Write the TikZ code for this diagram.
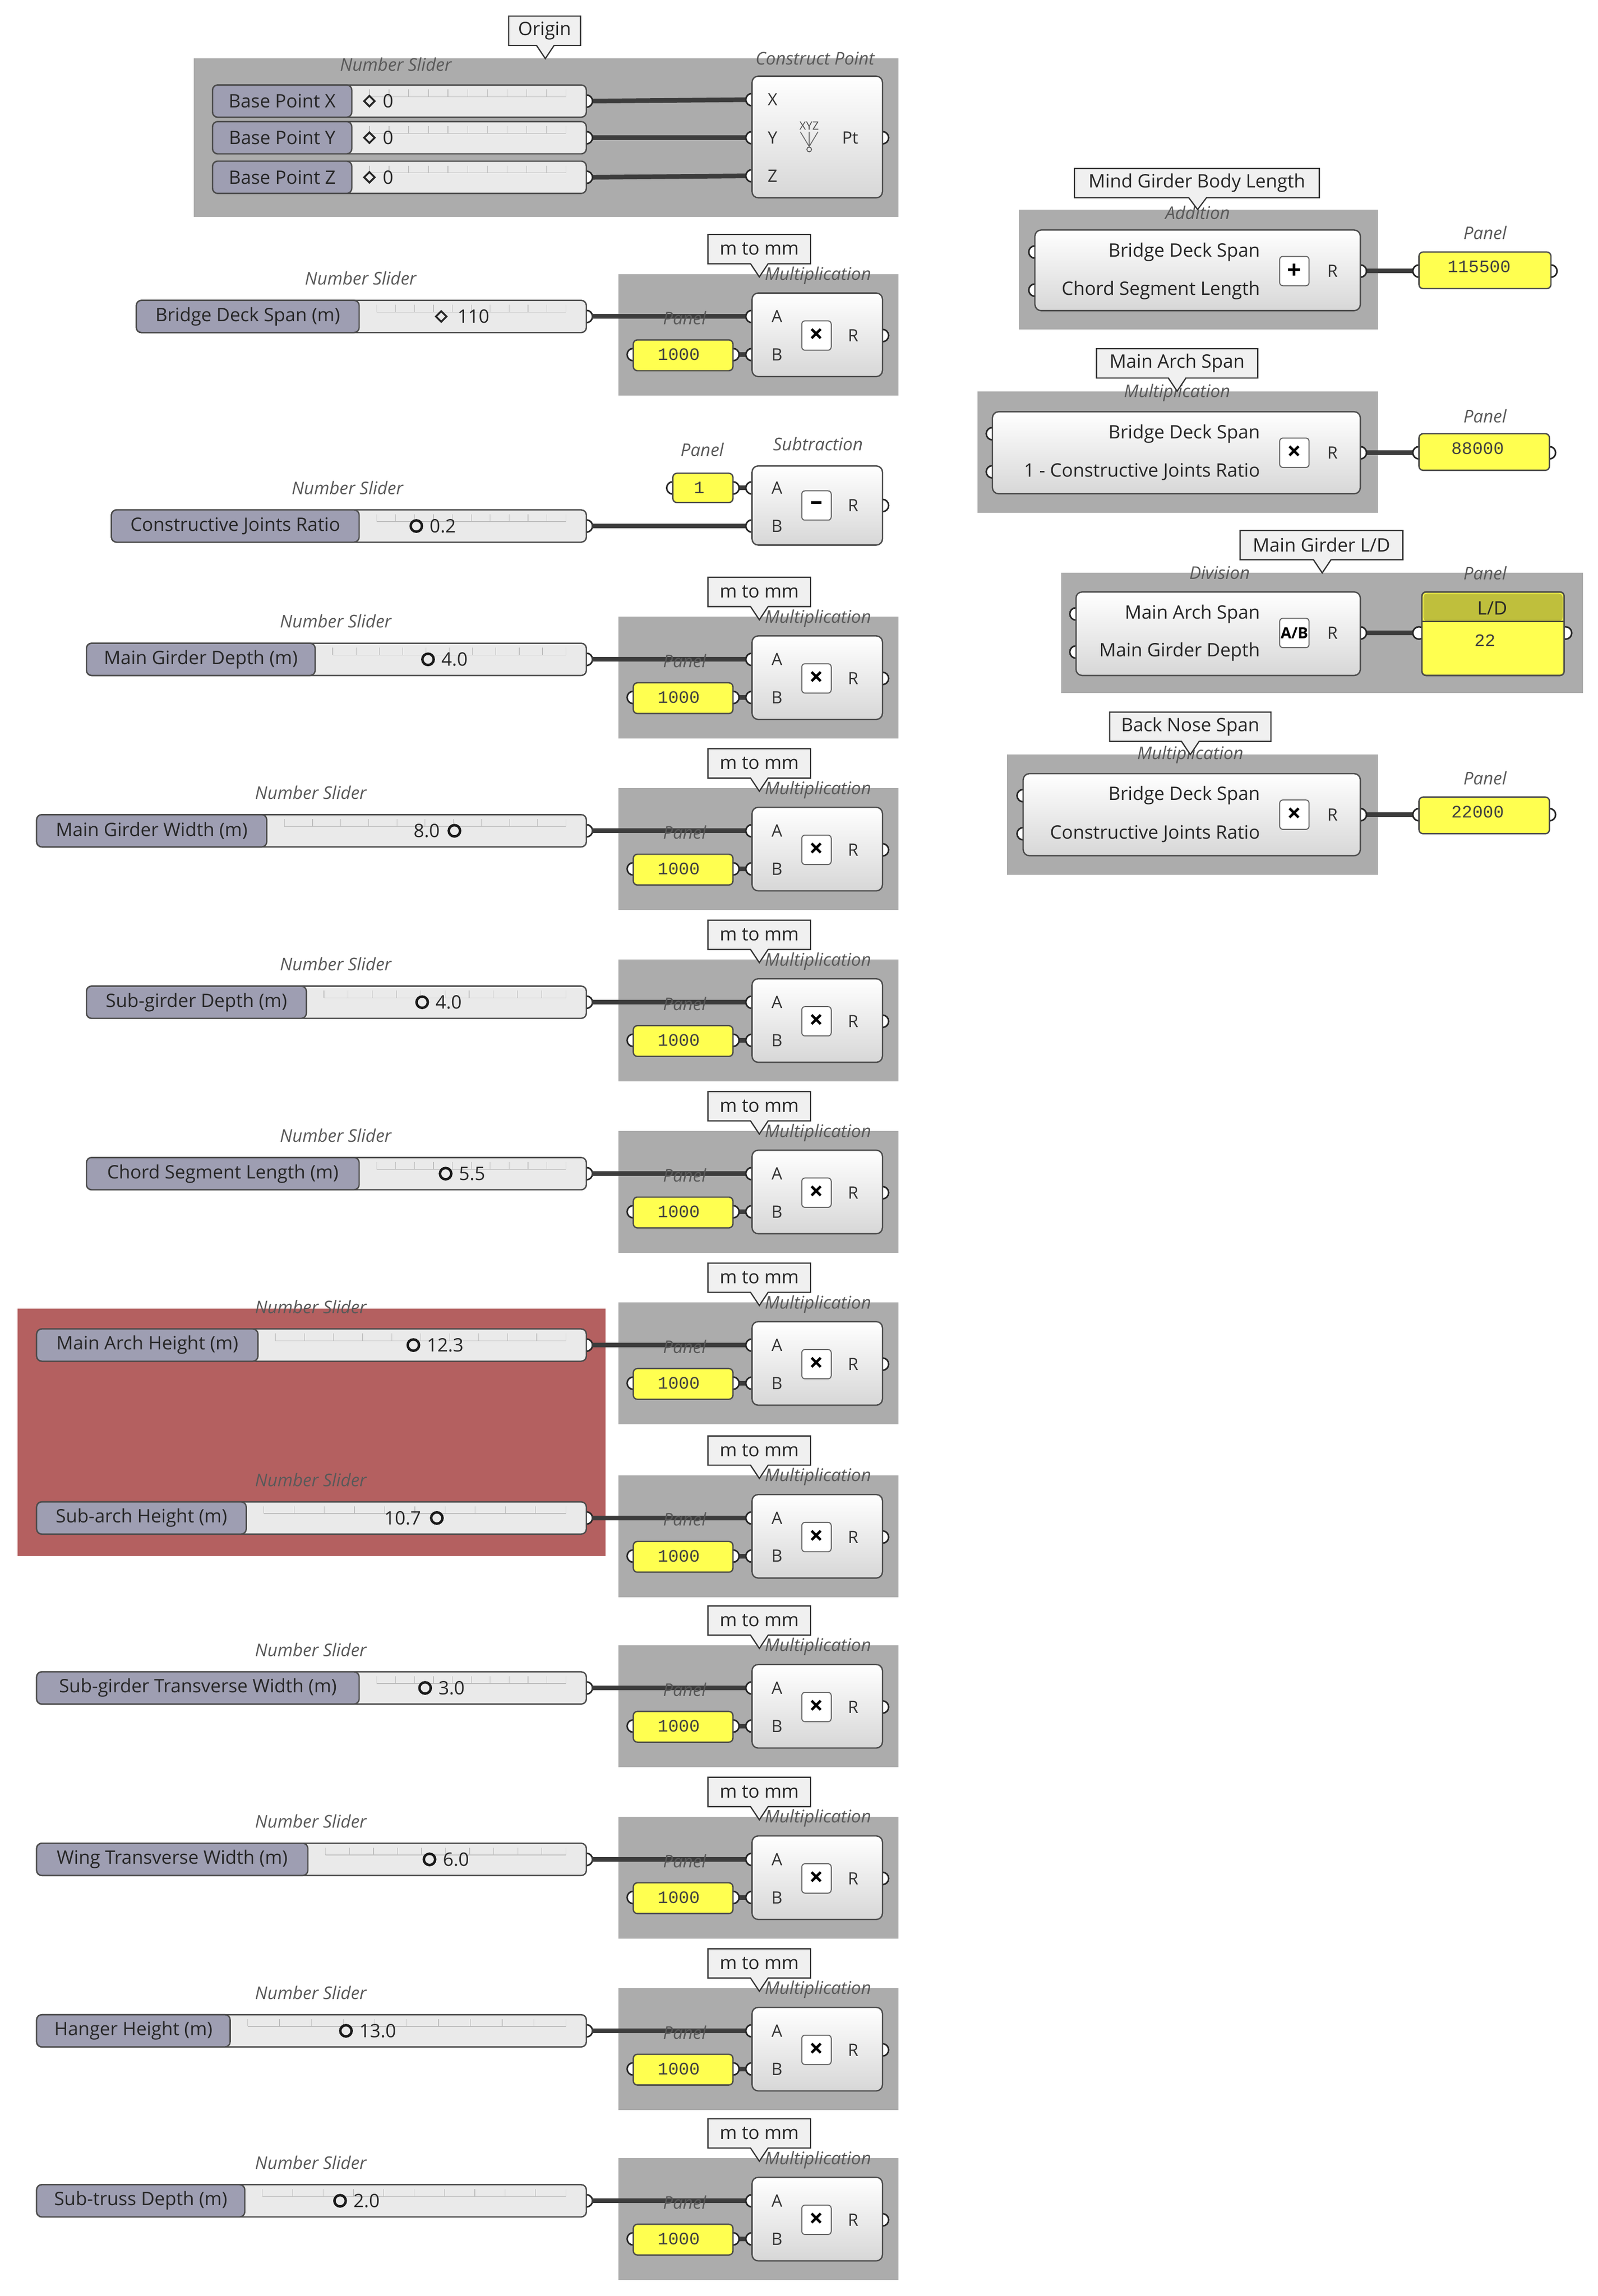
\documentclass[tikz,border=0pt]{standalone}
\usepackage{fontspec}
\setmainfont{Open Sans}
\newfontfamily\monof{Liberation Mono}
\usetikzlibrary{shapes.geometric}
\definecolor{grpc}{RGB}{172,172,172}
\definecolor{lblc}{RGB}{158,158,178}
\definecolor{valc}{RGB}{234,234,234}
\definecolor{yelc}{RGB}{255,255,80}
\definecolor{wirec}{RGB}{60,60,60}
\definecolor{redc}{RGB}{180,96,96}
\definecolor{cmpc}{RGB}{215,215,215}
\definecolor{cwc}{RGB}{240,240,240}
\tikzset{
 grpbox/.style={fill=grpc,draw=none},
 wire/.style={draw=wirec,line width=4.5pt},
 comp/.style={draw=black!70,line width=1.3pt,rounded corners=6pt,top color=white,bottom color=cmpc},
 port/.style={circle,draw=black!85,fill=white,line width=1.5pt,minimum size=12pt,inner sep=0pt},
 panelbox/.style={draw=black!70,line width=1.3pt,rounded corners=4pt,fill=yelc},
 ital/.style={font=\fontsize{17}{19}\selectfont\itshape,text=black!65},
 txt/.style={font=\fontsize{18}{21}\selectfont,text=black!85},
 smt/.style={font=\fontsize{16.5}{18}\selectfont,text=black!80},
 mono/.style={font=\fontsize{17}{19}\selectfont\monof,text=black!75},
 mkd/.style={diamond,draw=black!85,line width=1.8pt,minimum size=11pt,inner sep=0pt},
 mkc/.style={circle,draw=black!90,line width=2.4pt,minimum size=11pt,inner sep=0pt},
 iconb/.style={draw=black!60,line width=1pt,rounded corners=3pt,fill=white,minimum size=1cm,inner sep=0pt,font=\fontsize{24}{24}\selectfont\bfseries},
 callbox/.style={draw=black!80,line width=1.2pt,fill=cwc},
}
% slider: name, x1, xsplit, c, label, valx, value, markx, markstyle
\newcommand\gslider[9]{%
 \node[port] at (400,#4) {};
 \draw[black!70,line width=1.3pt,rounded corners=5pt,fill=valc] (#2,#4-11) rectangle (400,#4+11);
 \draw[black!70,line width=1.3pt,rounded corners=5pt,fill=lblc] (#2,#4-11) rectangle (#3,#4+11);
 \foreach \k in {0,...,10} \draw[black!25,line width=0.6pt] ({#3+12+\k*(386-#3-12)/10},#4-8) -- ++(0,5);
 \draw[black!25,line width=0.6pt] (#3+12,#4-3) -- (386,#4-3);
 \node[txt] at ({(#2+#3)/2},#4) {#5};
 \node[txt,anchor=west,inner sep=0pt] at (#6,#4) {#7};
 \node[#9] at (#8,#4) {};
 \coordinate (#1) at (404,#4);
}
\newcommand\callout[6]{% x1,x2,cy,text,tipx,tipy
 \draw[callbox] (#1,#3-10) -- (#2,#3-10) -- (#2,#3+10) -- (#5+6,#3+10) -- (#5,#6) -- (#5-6,#3+10) -- (#1,#3+10) -- cycle;
 \node[txt] at ({(#1+#2)/2},#3) {#4};
}
% mult block: slidername, c
\newcommand\mult[2]{%
 \fill[grpbox] (422,#2-29) rectangle (613,#2+54);
 \draw[wire] (#1) -- (513,#2);
 \draw[wire] (500,#2+26) -- (513,#2+26);
 \node[port] at (513,#2) {};
 \node[port] at (513,#2+26) {};
 \node[port] at (602,#2+13) {};
 \node[port] at (432,#2+26) {};
 \node[port] at (500,#2+26) {};
 \draw[comp] (513,#2-16) rectangle (602,#2+41);
 \draw[panelbox] (432,#2+16) rectangle (500,#2+37);
 \node[mono] at (463,#2+26) {1000};
 \node[smt] at (530,#2) {A};
 \node[smt] at (530,#2+26) {B};
 \node[smt] at (582,#2+13) {R};
 \node[iconb] at (557,#2+13) {×};
 \node[ital] at (467,#2+1) {Panel};
 \node[ital] at (558,#2-28) {Multiplication};
 \callout{483}{553}{#2-46}{m to mm}{518}{#2-27}
}
\begin{document}
\begin{tikzpicture}[x=0.05cm,y=-0.05cm]
\useasboundingbox[fill=white] (0,0) rectangle (1090,1567);
% red group
\fill[redc] (12,893) rectangle (413,1062);
% ===== Origin group
\fill[grpbox] (132,40) rectangle (613,148);
\node[ital] at (270,44) {Number Slider};
\node[ital] at (556,40) {Construct Point};
\draw[wire] (404,69) -- (513,68);
\draw[wire] (404,94) -- (513,94);
\draw[wire] (404,121) -- (513,120);
\gslider{bx}{145}{240}{69}{Base Point X}{261}{0}{252}{mkd}
\gslider{by}{145}{240}{94}{Base Point Y}{261}{0}{252}{mkd}
\gslider{bz}{145}{240}{121}{Base Point Z}{261}{0}{252}{mkd}
\node[port] at (513,68) {};
\node[port] at (513,94) {};
\node[port] at (513,120) {};
\node[port] at (602,94) {};
\draw[comp] (513,52) rectangle (602,135);
\node[smt] at (527,68) {X};
\node[smt] at (527,94) {Y};
\node[smt] at (527,120) {Z};
\node[smt] at (580,94) {Pt};
\node[font=\fontsize{11}{11}\selectfont,text=black!70] (xyz) at (552,86) {XYZ};
\draw[black!60,line width=0.8pt] (546,90) -- (552,100) (552,90) -- (552,100) (558,90) -- (552,100);
\draw[black!70,line width=0.8pt] (552,102) circle (1.6);
\callout{347}{396}{21}{Origin}{372}{40}
% ===== Bridge deck span
\gslider{s1}{93}{245}{216}{Bridge Deck Span (m)}{312}{110}{301}{mkd}
\node[ital] at (246,190) {Number Slider};
\mult{s1}{216}
% ===== Subtraction
\gslider{s2}{76}{245}{359}{Constructive Joints Ratio}{293}{0.2}{284}{mkc}
\node[ital] at (237,333) {Number Slider};
\draw[wire] (s2) -- (513,359);
\draw[wire] (500,333) -- (513,333);
\node[port] at (459,333) {};
\node[port] at (500,333) {};
\node[port] at (513,333) {};
\node[port] at (513,359) {};
\node[port] at (602,345) {};
\draw[comp] (513,318) rectangle (602,372);
\draw[panelbox] (459,323) rectangle (500,343);
\node[mono] at (477,333) {1};
\node[ital] at (479,307) {Panel};
\node[ital] at (558,303) {Subtraction};
\node[smt] at (530,333) {A};
\node[smt] at (530,359) {B};
\node[smt] at (582,345) {R};
\node[iconb] at (557,345) {–};
% ===== rows
\gslider{s3}{59}{215}{450}{Main Girder Depth (m)}{301}{4.0}{292}{mkc}
\node[ital] at (229,424) {Number Slider}; \mult{s3}{450}
\gslider{s4}{25}{182}{567}{Main Girder Width (m)}{282}{8.0}{310}{mkc}
\node[ital] at (212,541) {Number Slider}; \mult{s4}{567}
\gslider{s5}{59}{209}{684}{Sub-girder Depth (m)}{297}{4.0}{288}{mkc}
\node[ital] at (229,658) {Number Slider}; \mult{s5}{684}
\gslider{s6}{59}{245}{801}{Chord Segment Length (m)}{313}{5.5}{304}{mkc}
\node[ital] at (229,775) {Number Slider}; \mult{s6}{801}
\gslider{s7}{25}{176}{918}{Main Arch Height (m)}{291}{12.3}{282}{mkc}
\node[ital] at (212,892) {Number Slider}; \mult{s7}{918}
\gslider{s8}{25}{168}{1036}{Sub-arch Height (m)}{262}{10.7}{298}{mkc}
\node[ital] at (212,1010) {Number Slider}; \mult{s8}{1036}
\gslider{s9}{25}{245}{1152}{Sub-girder Transverse Width (m)}{299}{3.0}{290}{mkc}
\node[ital] at (212,1126) {Number Slider}; \mult{s9}{1152}
\gslider{s10}{25}{210}{1269}{Wing Transverse Width (m)}{302}{6.0}{293}{mkc}
\node[ital] at (212,1243) {Number Slider}; \mult{s10}{1269}
\gslider{s11}{25}{157}{1386}{Hanger Height (m)}{245}{13.0}{236}{mkc}
\node[ital] at (212,1360) {Number Slider}; \mult{s11}{1386}
\gslider{s12}{25}{167}{1502}{Sub-truss Depth (m)}{241}{2.0}{232}{mkc}
\node[ital] at (212,1476) {Number Slider}; \mult{s12}{1502}
% ===== Right: Addition
\fill[grpbox] (695,143) rectangle (940,225);
\draw[wire] (932,185) -- (968,185);
\node[port] at (706,172) {}; \node[port] at (706,198) {}; \node[port] at (928,185) {};
\node[port] at (968,185) {}; \node[port] at (1058,185) {};
\draw[comp] (706,157) rectangle (928,212);
\node[txt,anchor=east] at (862,172) {Bridge Deck Span};
\node[txt,anchor=east] at (862,198) {Chord Segment Length};
\node[iconb] at (883,185) {+};
\node[smt] at (909,185) {R};
\node[ital] at (817,145) {Addition};
\callout{733}{900}{125}{Mind Girder Body Length}{817}{143}
\draw[panelbox] (968,172) rectangle (1058,197);
\node[mono] at (1009,182) {115500};
\node[ital] at (1013,159) {Panel};
% ===== Main Arch Span
\fill[grpbox] (667,267) rectangle (940,350);
\draw[wire] (932,309) -- (968,309);
\node[port] at (677,296) {}; \node[port] at (677,322) {}; \node[port] at (928,309) {};
\node[port] at (968,309) {}; \node[port] at (1057,309) {};
\draw[comp] (677,281) rectangle (928,337);
\node[txt,anchor=east] at (862,296) {Bridge Deck Span};
\node[txt,anchor=east] at (862,322) {1 - Constructive Joints Ratio};
\node[iconb] at (883,309) {×};
\node[smt] at (909,309) {R};
\node[ital] at (803,268) {Multiplication};
\callout{748}{858}{248}{Main Arch Span}{803}{267}
\draw[panelbox] (968,296) rectangle (1057,321);
\node[mono] at (1008,306) {88000};
\node[ital] at (1013,284) {Panel};
% ===== Main Girder L/D
\fill[grpbox] (724,391) rectangle (1080,473);
\draw[wire] (932,432) -- (968,432);
\node[port] at (734,419) {}; \node[port] at (734,445) {}; \node[port] at (928,432) {};
\node[port] at (968,432) {}; \node[port] at (1068,432) {};
\draw[comp] (734,404) rectangle (928,461);
\node[txt,anchor=east] at (862,419) {Main Arch Span};
\node[txt,anchor=east] at (862,445) {Main Girder Depth};
\node[iconb,font=\fontsize{15}{15}\selectfont\bfseries] at (883,432) {A/B};
\node[smt] at (909,432) {R};
\node[ital] at (832,391) {Division};
\node[ital] at (1013,391) {Panel};
\callout{846}{957}{372}{Main Girder L/D}{902}{391}
\draw[panelbox] (970,404) rectangle (1067,461);
\fill[yelc!75!black,rounded corners=4pt] (971,405) rectangle (1066,424);
\draw[black!80,line width=1.2pt] (970,424) -- (1067,424);
\draw[black!70,line width=1.3pt,rounded corners=4pt] (970,404) rectangle (1067,461);
\node[txt] at (1018,415) {L/D};
\node[mono] at (1013,437) {22};
% ===== Back Nose Span
\fill[grpbox] (687,515) rectangle (940,597);
\draw[wire] (932,556) -- (968,556);
\node[port] at (698,543) {}; \node[port] at (698,569) {}; \node[port] at (928,556) {};
\node[port] at (968,556) {}; \node[port] at (1057,556) {};
\draw[comp] (698,528) rectangle (928,584);
\node[txt,anchor=east] at (862,543) {Bridge Deck Span};
\node[txt,anchor=east] at (862,569) {Constructive Joints Ratio};
\node[iconb] at (883,556) {×};
\node[smt] at (909,556) {R};
\node[ital] at (812,515) {Multiplication};
\callout{757}{867}{496}{Back Nose Span}{812}{515}
\draw[panelbox] (968,544) rectangle (1057,569);
\node[mono] at (1008,554) {22000};
\node[ital] at (1013,531) {Panel};
\end{tikzpicture}
\end{document}
